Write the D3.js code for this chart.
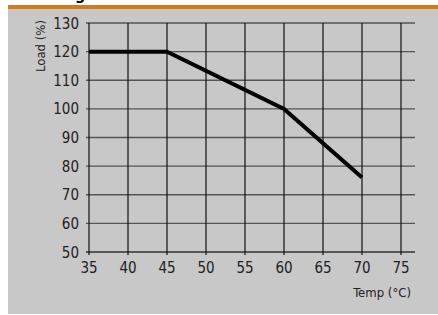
<!DOCTYPE html>
<html>
<head>
<meta charset="utf-8">
<script src="https://cdn.jsdelivr.net/npm/d3@7"></script>
<style>
  body { margin: 0; background: #fff; }
  svg text { font-family: "Liberation Sans Narrow", "DejaVu Sans Condensed", "Roboto", sans-serif; fill: #222; }
</style>
</head>
<body>
<svg width="438" height="315"></svg>
<script>
// derating curve
let temps = [35, 45, 60, 70]
let loads = [120, 120, 100, 76]
let xTicks = [35, 40, 45, 50, 55, 60, 65, 70, 75]
let yTicks = [50, 60, 70, 80, 90, 100, 110, 120, 130]

const svg = d3.select('svg')
let margin = { top: 23, left: 89, bottom: 252, right: 401 }

// panel + orange rule
svg.append('rect').attr('x', 8).attr('y', 8).attr('width', 430).attr('height', 306).attr('fill', '#c8c8c8')
svg.append('rect').attr('x', 8).attr('y', 5).attr('width', 430).attr('height', 4).attr('fill', '#d6781b')
// cut-off title descender
svg.append('text').attr('x', 75).attr('y', -0.5).attr('font-size', 16).attr('font-weight', 'bold').style('fill', '#000').text('g')

let x = d3.scaleLinear().domain([35, 75]).range([margin.left, margin.right])
let y = d3.scaleLinear().domain([50, 130]).range([margin.bottom, margin.top])

// horizontal grid
svg.append('g')
  .selectAll('line')
  .data(yTicks)
  .enter()
  .append('line')
  .attr('x1', margin.left - 3)
  .attr('x2', 415)
  .attr('y1', d => y(d))
  .attr('y2', d => y(d))
  .attr('stroke', d => (d === 50 ? '#333' : '#555'))
  .attr('stroke-width', 1.3)

// vertical grid
svg.append('g')
  .selectAll('line')
  .data(xTicks)
  .enter()
  .append('line')
  .attr('x1', d => x(d))
  .attr('x2', d => x(d))
  .attr('y1', margin.top)
  .attr('y2', margin.bottom + 3)
  .attr('stroke', '#111')
  .attr('stroke-width', 1.2)

// y labels
svg.append('g')
  .selectAll('text')
  .data(yTicks)
  .enter()
  .append('text')
  .attr('x', 79)
  .attr('y', d => y(d) + 5.5)
  .attr('text-anchor', 'end')
  .attr('font-size', 15)
  .text(d => d)

// x labels
svg.append('g')
  .selectAll('text')
  .data(xTicks)
  .enter()
  .append('text')
  .attr('x', d => x(d))
  .attr('y', 273)
  .attr('text-anchor', 'middle')
  .attr('font-size', 15)
  .text(d => d)

svg.append('text')
  .attr('x', 411)
  .attr('y', 297)
  .attr('text-anchor', 'end')
  .attr('font-size', 13)
  .text('Temp (°C)')

svg.append('text')
  .attr('transform', 'translate(45,20) rotate(-90)')
  .attr('text-anchor', 'end')
  .attr('font-size', 13)
  .text('Load (%)')

let line = d3.line()
  .x((d, i) => x(temps[i]))
  .y(d => y(d))

svg.append('path')
  .datum(loads)
  .attr('d', line)
  .attr('fill', 'none')
  .attr('stroke', '#000')
  .attr('stroke-width', 4)
</script>
</body>
</html>
